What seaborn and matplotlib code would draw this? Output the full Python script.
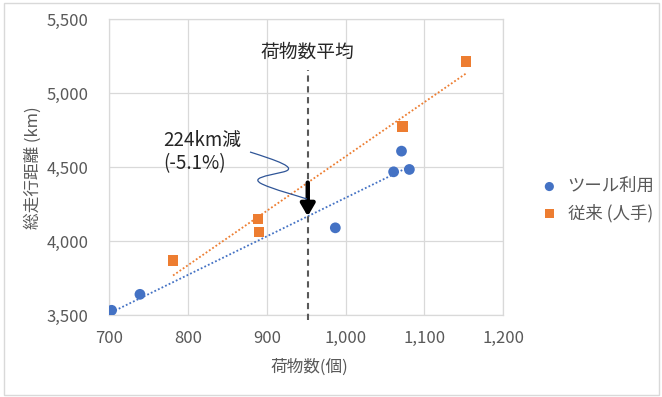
import numpy as np
import pandas as pd
import matplotlib
matplotlib.use("Agg")
import matplotlib.pyplot as plt
import matplotlib.ticker as mticker
from matplotlib.patches import Rectangle, PathPatch
from matplotlib.path import Path
import seaborn as sns

# ---- data ----
tool_x = [703, 739, 987, 1061, 1071, 1081]
tool_y = [3532, 3640, 4090, 4469, 4609, 4485]
manual_x = [781, 889, 890, 1072, 1153]
manual_y = [3867, 4149, 4061, 4778, 5217]
series_names = ["ツール利用", "従来 (人手)"]
avg_x = 952
avg_label = "荷物数平均"
callout = "224km減\n(-5.1%)"
x_ticks = [700, 800, 900, 1000, 1100, 1200]
y_ticks = [3500, 4000, 4500, 5000, 5500]
x_label = "荷物数(個)"
y_label = "総走行距離 (km)"

BLUE = "#4472C4"
ORANGE = "#ED7D31"
GRAY = "#595959"

sns.set_theme(style="white")
plt.rcParams["font.family"] = ["Noto Sans CJK JP", "DejaVu Sans"]

df_tool = pd.DataFrame({"x": tool_x, "y": tool_y})
df_man = pd.DataFrame({"x": manual_x, "y": manual_y})

fig = plt.figure(figsize=(6.62, 3.97), dpi=100)
ax = fig.add_axes([0.165, 0.2065, 0.595, 0.7445])

sns.regplot(data=df_tool, x="x", y="y", scatter=False, ci=None, truncate=True, ax=ax,
            line_kws=dict(color=BLUE, lw=1.3, ls=(0, (1, 1.2))))
sns.regplot(data=df_man, x="x", y="y", scatter=False, ci=None, truncate=True, ax=ax,
            line_kws=dict(color=ORANGE, lw=1.3, ls=(0, (1, 1.2))))
sns.scatterplot(data=df_tool, x="x", y="y", marker="o", s=60, color=BLUE,
                edgecolor="none", ax=ax, label=series_names[0], zorder=5)
sns.scatterplot(data=df_man, x="x", y="y", marker="s", s=60, color=ORANGE,
                edgecolor="none", ax=ax, label=series_names[1], zorder=5)

ax.set_xlim(700, 1200)
ax.set_ylim(3500, 5500)
ax.set_xticks(x_ticks)
ax.set_yticks(y_ticks)
fmt = mticker.FuncFormatter(lambda v, p: f"{int(v):,}")
ax.xaxis.set_major_formatter(fmt)
ax.yaxis.set_major_formatter(fmt)
ax.tick_params(axis="both", length=0, labelsize=12, labelcolor=GRAY)
ax.tick_params(axis="y", pad=15)
ax.tick_params(axis="x", pad=11)
ax.grid(True, color="#D9D9D9", lw=0.9)
ax.set_axisbelow(True)
for s in ax.spines.values():
    s.set_color("#D9D9D9")
    s.set_linewidth(0.9)
ax.set_xlabel(x_label, fontsize=12, color=GRAY)
ax.set_ylabel(y_label, fontsize=12, color=GRAY)
ax.xaxis.set_label_coords(0.509, -0.149)
ax.yaxis.set_label_coords(-0.194, 0.5)
ax.yaxis.label.set_va("center")

# average line
ax.plot([avg_x, avg_x], [3466, 5155], color="#595959", lw=1.5, ls=(0, (3, 2.2)),
        clip_on=False, zorder=3)
ax.text(avg_x, 5205, avg_label, ha="center", va="bottom", fontsize=13.5, color="#262626")

# difference arrow between fits at average
pt = np.polyfit(tool_x, tool_y, 1)
pm = np.polyfit(manual_x, manual_y, 1)
y_top = np.polyval(pm, avg_x)
y_bot = np.polyval(pt, avg_x)
ax.annotate("", xy=(avg_x, y_bot), xytext=(avg_x, y_top),
            arrowprops=dict(arrowstyle="-|>,head_width=0.35,head_length=0.6",
                            color="black", lw=3.2, shrinkA=0, shrinkB=0), zorder=6)

# callout text and wavy connector (pixel-based)
def px2data(px, py):
    disp = fig.transFigure.transform((px / 662, 1 - py / 397))
    return ax.transData.inverted().transform(disp)

tx, ty = px2data(163, 152)
ax.text(tx, ty, callout, ha="left", va="center", fontsize=13.5, color="#262626",
        linespacing=1.1)
verts_px = [(250, 152), (275, 160), (300, 168), (283, 172),
            (266, 176), (250, 178), (262, 184),
            (275, 190), (295, 195), (307, 199)]
verts = [px2data(*v) for v in verts_px]
codes = [Path.MOVETO] + [Path.CURVE4] * 9
ax.add_patch(PathPatch(Path(verts, codes), facecolor="none", edgecolor="#2F5597",
                       lw=0.9, zorder=6))

leg = ax.legend(loc="center left", bbox_to_anchor=(0.78, 0.497),
                bbox_transform=fig.transFigure, frameon=False, fontsize=12.5,
                handletextpad=0.05, labelspacing=0.5, markerscale=0.85)
for t in leg.get_texts():
    t.set_color(GRAY)

fig.patches.append(Rectangle((4 / 662, 2 / 397), 655 / 662, 392 / 397,
                             transform=fig.transFigure, fill=False,
                             edgecolor="#D9D9D9", lw=1))

fig.savefig("out.png", dpi=100)
